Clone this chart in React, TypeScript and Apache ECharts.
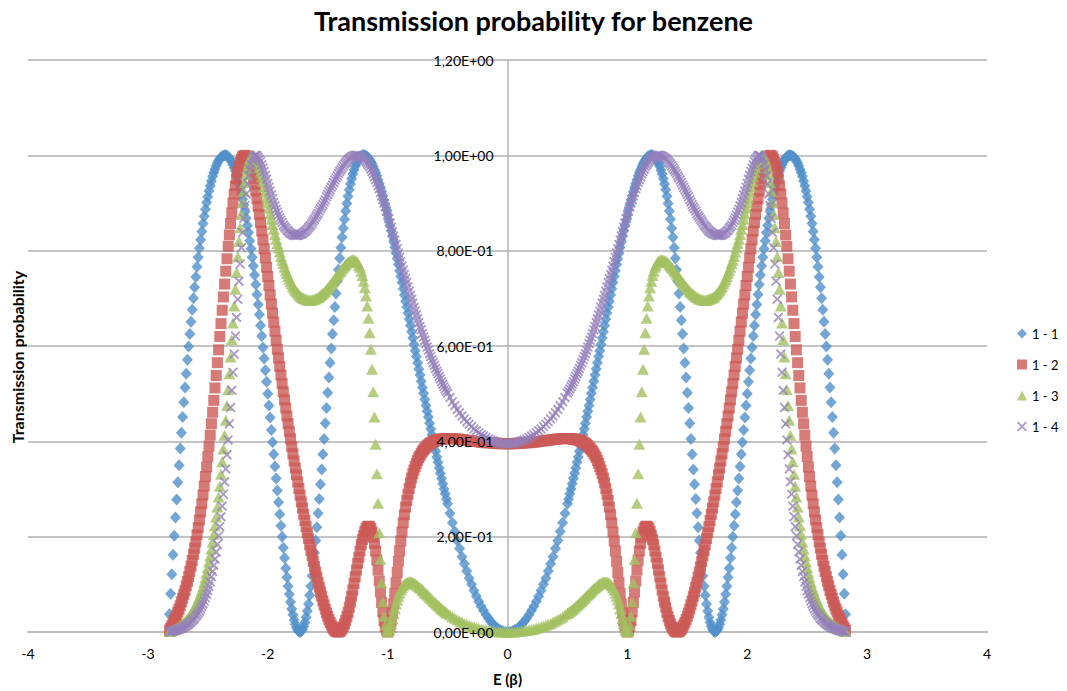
import React, { useEffect, useRef } from "react";
import * as echarts from "echarts";

// Energies (units of beta), E >= 0; the curves are symmetric in E.
// Coarse grid (step 0.02) and in-between readings (0.51 ... 2.81, step 0.02)
const energies = [0,0.02,0.04,0.06,0.08,0.1,0.12,0.14,0.16,0.18,0.2,0.22,0.24,0.26,0.28,0.3,0.32,0.34,0.36,0.38,0.4,0.42,0.44,0.46,0.48,0.5,0.52,0.54,0.56,0.58,0.6,0.62,0.64,0.66,0.68,0.7,0.72,0.74,0.76,0.78,0.8,0.82,0.84,0.86,0.88,0.9,0.92,0.94,0.96,0.98,1,1.02,1.04,1.06,1.08,1.1,1.12,1.14,1.16,1.18,1.2,1.22,1.24,1.26,1.28,1.3,1.32,1.34,1.36,1.38,1.4,1.42,1.44,1.46,1.48,1.5,1.52,1.54,1.56,1.58,1.6,1.62,1.64,1.66,1.68,1.7,1.72,1.74,1.76,1.78,1.8,1.82,1.84,1.86,1.88,1.9,1.92,1.94,1.96,1.98,2,2.02,2.04,2.06,2.08,2.1,2.12,2.14,2.16,2.18,2.2,2.22,2.24,2.26,2.28,2.3,2.32,2.34,2.36,2.38,2.4,2.42,2.44,2.46,2.48,2.5,2.52,2.54,2.56,2.58,2.6,2.62,2.64,2.66,2.68,2.7,2.72,2.74,2.76,2.78,2.8,2.82];

const energiesMid = [0.51,0.53,0.55,0.57,0.59,0.61,0.63,0.65,0.67,0.69,0.71,0.73,0.75,0.77,0.79,0.81,0.83,0.85,0.87,0.89,0.91,0.93,0.95,0.97,0.99,1.01,1.03,1.05,1.07,1.09,1.11,1.13,1.15,1.17,1.19,1.21,1.23,1.25,1.27,1.29,1.31,1.33,1.35,1.37,1.39,1.41,1.43,1.45,1.47,1.49,1.51,1.53,1.55,1.57,1.59,1.61,1.63,1.65,1.67,1.69,1.71,1.73,1.75,1.77,1.79,1.81,1.83,1.85,1.87,1.89,1.91,1.93,1.95,1.97,1.99,2.01,2.03,2.05,2.07,2.09,2.11,2.13,2.15,2.17,2.19,2.21,2.23,2.25,2.27,2.29,2.31,2.33,2.35,2.37,2.39,2.41,2.43,2.45,2.47,2.49,2.51,2.53,2.55,2.57,2.59,2.61,2.63,2.65,2.67,2.69,2.71,2.73,2.75,2.77,2.79,2.81];

const t11 = [0,0,0.002,0.004,0.007,0.011,0.016,0.022,0.029,0.036,
0.045,0.054,0.064,0.075,0.087,0.1,0.113,0.128,0.143,0.158,
0.175,0.192,0.211,0.229,0.249,0.269,0.29,0.311,0.333,0.356,
0.379,0.402,0.426,0.451,0.475,0.501,0.526,0.552,0.578,0.603,
0.63,0.656,0.682,0.707,0.733,0.758,0.783,0.807,0.831,0.853,
0.875,0.896,0.915,0.933,0.949,0.964,0.976,0.986,0.994,0.998,
1,0.998,0.993,0.983,0.969,0.951,0.928,0.899,0.866,0.828,
0.784,0.736,0.682,0.625,0.565,0.502,0.438,0.373,0.31,0.249,
0.192,0.141,0.096,0.059,0.031,0.012,0.002,0.001,0.009,0.025,
0.048,0.079,0.115,0.155,0.2,0.247,0.297,0.347,0.398,0.45,
0.5,0.549,0.597,0.643,0.687,0.729,0.768,0.804,0.838,0.868,
0.896,0.92,0.941,0.959,0.974,0.986,0.994,0.999,1,0.998,
0.993,0.984,0.971,0.956,0.936,0.913,0.887,0.857,0.823,0.786,
0.745,0.7,0.651,0.599,0.542,0.482,0.418,0.35,0.278,0.202,
0.121,0.037];
const t11Mid = [0.279,0.3,0.322,0.344,0.367,0.39,0.414,0.438,0.463,0.488,
0.513,0.539,0.565,0.59,0.617,0.643,0.669,0.694,0.72,0.746,
0.771,0.795,0.819,0.842,0.864,0.886,0.906,0.924,0.941,0.957,
0.97,0.982,0.99,0.997,1,1,0.996,0.988,0.977,0.961,
0.94,0.914,0.883,0.847,0.806,0.76,0.71,0.654,0.595,0.534,
0.47,0.405,0.341,0.279,0.22,0.166,0.118,0.077,0.044,0.02,
0.006,0,0.004,0.016,0.036,0.063,0.096,0.134,0.177,0.223,
0.272,0.322,0.373,0.424,0.475,0.525,0.574,0.621,0.666,0.708,
0.749,0.786,0.821,0.853,0.882,0.908,0.931,0.951,0.967,0.98,
0.99,0.997,1,0.999,0.996,0.989,0.978,0.964,0.946,0.925,
0.901,0.872,0.84,0.805,0.766,0.723,0.676,0.625,0.571,0.513,
0.451,0.385,0.314,0.24,0.162,0.08];

const t12 = [0.395,0.395,0.395,0.395,0.396,0.396,0.396,0.397,0.397,0.397,
0.398,0.398,0.399,0.4,0.4,0.401,0.402,0.402,0.403,0.404,
0.404,0.405,0.405,0.406,0.406,0.406,0.406,0.405,0.404,0.403,
0.402,0.4,0.397,0.393,0.388,0.382,0.375,0.366,0.354,0.34,
0.323,0.301,0.276,0.246,0.21,0.17,0.125,0.081,0.04,0.011,
0,0.011,0.042,0.084,0.13,0.17,0.199,0.217,0.222,0.217,
0.203,0.183,0.157,0.13,0.102,0.075,0.052,0.032,0.017,0.007,
0.001,0,0.003,0.01,0.02,0.033,0.048,0.065,0.084,0.104,
0.126,0.148,0.171,0.196,0.221,0.247,0.273,0.301,0.33,0.359,
0.389,0.421,0.453,0.487,0.521,0.557,0.593,0.631,0.669,0.707,
0.746,0.785,0.823,0.859,0.893,0.925,0.952,0.974,0.99,0.998,
0.999,0.992,0.976,0.951,0.919,0.879,0.833,0.783,0.73,0.675,
0.62,0.565,0.512,0.461,0.413,0.368,0.326,0.287,0.252,0.219,
0.189,0.163,0.138,0.116,0.097,0.079,0.063,0.048,0.035,0.024,
0.013,0.004];
const t12Mid = [0.406,0.405,0.405,0.404,0.403,0.401,0.398,0.395,0.391,0.385,
0.379,0.37,0.36,0.347,0.332,0.313,0.289,0.262,0.229,0.191,
0.148,0.103,0.059,0.023,0.003,0.003,0.024,0.062,0.107,0.151,
0.186,0.21,0.221,0.221,0.211,0.194,0.17,0.144,0.116,0.088,
0.063,0.041,0.024,0.011,0.003,0,0.001,0.006,0.015,0.026,
0.04,0.057,0.075,0.094,0.115,0.137,0.16,0.183,0.208,0.234,
0.26,0.287,0.315,0.344,0.374,0.405,0.437,0.47,0.504,0.539,
0.575,0.612,0.65,0.688,0.727,0.765,0.804,0.841,0.876,0.909,
0.939,0.963,0.983,0.995,1,0.997,0.985,0.965,0.936,0.9,
0.857,0.809,0.757,0.703,0.647,0.592,0.538,0.486,0.437,0.39,
0.346,0.306,0.269,0.235,0.204,0.176,0.15,0.127,0.106,0.087,
0.071,0.055,0.042,0.029,0.018,0.008];

const t13 = [0,0,0,0,0.001,0.001,0.002,0.003,0.003,0.004,
0.005,0.006,0.008,0.009,0.011,0.012,0.014,0.016,0.018,0.021,
0.023,0.026,0.029,0.032,0.036,0.039,0.043,0.047,0.051,0.056,
0.061,0.065,0.071,0.076,0.081,0.086,0.091,0.095,0.099,0.103,
0.105,0.105,0.104,0.1,0.093,0.082,0.067,0.049,0.028,0.009,
0,0.014,0.063,0.152,0.27,0.394,0.504,0.593,0.658,0.705,
0.736,0.757,0.77,0.778,0.781,0.78,0.778,0.774,0.768,0.762,
0.755,0.748,0.741,0.734,0.727,0.721,0.715,0.71,0.706,0.702,
0.699,0.697,0.696,0.696,0.698,0.7,0.703,0.708,0.714,0.721,
0.73,0.74,0.752,0.765,0.78,0.797,0.815,0.834,0.855,0.877,
0.9,0.923,0.945,0.965,0.982,0.994,1,0.997,0.984,0.96,
0.924,0.876,0.819,0.754,0.684,0.613,0.542,0.475,0.413,0.357,
0.306,0.262,0.223,0.189,0.16,0.135,0.114,0.095,0.08,0.067,
0.055,0.046,0.037,0.03,0.024,0.019,0.015,0.011,0.008,0.005,
0.003,0.001];
const t13Mid = [0.041,0.045,0.049,0.054,0.058,0.063,0.068,0.073,0.078,0.083,
0.088,0.093,0.097,0.101,0.104,0.105,0.105,0.102,0.097,0.088,
0.075,0.059,0.039,0.018,0.003,0.003,0.033,0.103,0.208,0.332,
0.451,0.551,0.628,0.684,0.722,0.748,0.765,0.775,0.779,0.781,
0.779,0.776,0.771,0.765,0.758,0.751,0.744,0.737,0.731,0.724,
0.718,0.713,0.708,0.704,0.701,0.698,0.697,0.696,0.697,0.699,
0.701,0.705,0.711,0.717,0.725,0.735,0.746,0.758,0.773,0.788,
0.806,0.824,0.845,0.866,0.889,0.911,0.934,0.955,0.974,0.989,
0.998,1,0.992,0.973,0.943,0.901,0.848,0.787,0.719,0.648,
0.577,0.508,0.444,0.384,0.331,0.283,0.241,0.205,0.174,0.147,
0.124,0.104,0.087,0.073,0.061,0.05,0.041,0.034,0.027,0.022,
0.017,0.013,0.009,0.006,0.004,0.002];

const t14 = [0.395,0.395,0.396,0.396,0.398,0.399,0.401,0.403,0.405,0.408,
0.411,0.414,0.418,0.422,0.426,0.431,0.436,0.441,0.447,0.453,
0.46,0.467,0.475,0.483,0.492,0.501,0.51,0.52,0.531,0.542,
0.553,0.565,0.578,0.591,0.605,0.619,0.634,0.649,0.665,0.681,
0.698,0.715,0.733,0.75,0.768,0.786,0.804,0.822,0.84,0.858,
0.875,0.892,0.907,0.922,0.936,0.949,0.961,0.971,0.98,0.987,
0.993,0.997,0.999,1,0.999,0.997,0.993,0.988,0.982,0.974,
0.966,0.957,0.948,0.938,0.928,0.918,0.907,0.897,0.888,0.878,
0.87,0.862,0.854,0.848,0.842,0.838,0.835,0.833,0.832,0.833,
0.835,0.838,0.843,0.85,0.859,0.869,0.881,0.894,0.909,0.925,
0.941,0.958,0.973,0.987,0.996,1,0.996,0.982,0.957,0.919,
0.868,0.806,0.736,0.66,0.583,0.507,0.437,0.372,0.315,0.264,
0.221,0.184,0.153,0.127,0.105,0.087,0.072,0.059,0.049,0.04,
0.033,0.026,0.021,0.017,0.013,0.01,0.008,0.006,0.004,0.003,
0.001,0];
const t14Mid = [0.505,0.515,0.525,0.536,0.547,0.559,0.571,0.584,0.598,0.612,
0.626,0.641,0.657,0.673,0.69,0.706,0.724,0.741,0.759,0.777,
0.795,0.813,0.831,0.849,0.867,0.883,0.9,0.915,0.93,0.943,
0.955,0.966,0.976,0.984,0.99,0.995,0.998,1,1,0.998,
0.995,0.991,0.985,0.978,0.97,0.962,0.953,0.943,0.933,0.923,
0.913,0.902,0.892,0.883,0.874,0.866,0.858,0.851,0.845,0.84,
0.836,0.834,0.832,0.832,0.833,0.836,0.841,0.847,0.854,0.864,
0.875,0.887,0.901,0.917,0.933,0.95,0.966,0.98,0.992,0.999,
0.999,0.991,0.971,0.94,0.895,0.838,0.772,0.698,0.621,0.545,
0.471,0.403,0.342,0.289,0.242,0.202,0.168,0.14,0.116,0.096,
0.079,0.065,0.054,0.044,0.036,0.029,0.024,0.019,0.015,0.012,
0.009,0.007,0.005,0.003,0.002,0.001];

const seriesNames = ["1 - 1", "1 - 2", "1 - 3", "1 - 4"];
const xTicks = { min: -4, max: 4, interval: 1 };
const yTicks = { min: 0, max: 1.2, interval: 0.2 };

// Build the symmetric [E, T] table from the E >= 0 readings
function table(vals: number[], midVals: number[]): number[][] {
  const pts: number[][] = [];
  energies.forEach((e, i) => pts.push([e, vals[i]]));
  energiesMid.forEach((e, i) => pts.push([e, midVals[i]]));
  pts.sort((a, b) => a[0] - b[0]);
  const out: number[][] = [];
  for (let i = pts.length - 1; i > 0; i--) out.push([-pts[i][0], pts[i][1]]);
  for (let i = 0; i < pts.length; i++) out.push([pts[i][0], pts[i][1]]);
  return out;
}

function fmtSci(v: number): string {
  const s = Number(v.toFixed(6)).toExponential(2);
  const [m, e] = s.split("e");
  const n = parseInt(e, 10);
  return m.replace(".", ",") + "E" + (n < 0 ? "-" : "+") + String(Math.abs(n)).padStart(2, "0");
}

const FONT = "Lato, 'Open Sans', sans-serif";
const X_PATH = "path://M1.3,0 L5,3.7 L8.7,0 L10,1.3 L6.3,5 L10,8.7 L8.7,10 L5,6.3 L1.3,10 L0,8.7 L3.7,5 L0,1.3 Z";

export default function App() {
  const ref = useRef<HTMLDivElement>(null);
  useEffect(() => {
    if (!ref.current) return;
    const chart = echarts.init(ref.current, undefined, { renderer: "svg" });
    const gridLeft = 28;
    const gridRight = 80;
    const plotWidth = 1067 - gridLeft - gridRight;
    chart.setOption({
      animation: false,
      backgroundColor: "#ffffff",
      textStyle: { fontFamily: FONT },
      title: {
        text: "Transmission probability for benzene",
        left: "center",
        top: 2,
        textStyle: { fontFamily: FONT, fontWeight: "bold", fontSize: 27, color: "#000" },
      },
      legend: {
        orient: "vertical",
        left: 1012,
        top: 322,
        itemWidth: 10,
        itemHeight: 10,
        itemGap: 18,
        data: seriesNames,
        textStyle: { fontFamily: FONT, fontSize: 13, color: "#000" },
      },
      graphic: [
        {
          type: "text",
          x: 17,
          y: 357,
          rotation: Math.PI / 2,
          style: {
            text: "Transmission probability",
            fontFamily: FONT,
            fontWeight: "bold",
            fontSize: 16,
            fill: "#000",
            align: "center",
            verticalAlign: "middle",
          },
        },
      ],
      grid: { left: gridLeft, right: gridRight, top: 60, bottom: 58, containLabel: false },
      xAxis: {
        type: "value",
        min: xTicks.min,
        max: xTicks.max,
        interval: xTicks.interval,
        name: "E (β)",
        nameLocation: "middle",
        nameGap: 39,
        nameTextStyle: { fontFamily: FONT, fontWeight: "bold", fontSize: 15, color: "#000" },
        axisLine: { show: true, onZero: true, lineStyle: { color: "#bdbdbd", width: 2 } },
        axisTick: { show: false },
        splitLine: { show: false },
        axisLabel: { fontFamily: FONT, fontSize: 14, color: "#000", margin: 14 },
      },
      yAxis: [
        {
          type: "value",
          min: yTicks.min,
          max: yTicks.max,
          interval: yTicks.interval,
          axisLine: { show: true, onZero: true, lineStyle: { color: "#b5b5b5", width: 1.5 } },
          axisTick: { show: false },
          axisLabel: { show: false },
          splitLine: { show: true, lineStyle: { color: "#c4c4c4", width: 2 } },
        },
        {
          type: "value",
          position: "left",
          offset: -plotWidth / 2,
          min: yTicks.min,
          max: yTicks.max,
          interval: yTicks.interval,
          z: 10,
          axisLine: { show: false, onZero: false },
          axisTick: { show: false },
          splitLine: { show: false },
          axisLabel: { fontFamily: FONT, fontSize: 14, color: "#000", margin: 14, formatter: fmtSci },
        },
      ],
      series: [
        {
          name: seriesNames[0],
          type: "scatter",
          symbol: "diamond",
          symbolSize: [11, 12],
          itemStyle: { color: "#5190cb" },
          data: table(t11, t11Mid),
        },
        {
          name: seriesNames[1],
          type: "scatter",
          symbol: "rect",
          symbolSize: 11,
          itemStyle: { color: "#cc5a56" },
          data: table(t12, t12Mid),
        },
        {
          name: seriesNames[2],
          type: "scatter",
          symbol: "triangle",
          symbolSize: [12, 11],
          itemStyle: { color: "#a2c061" },
          data: table(t13, t13Mid),
        },
        {
          name: seriesNames[3],
          type: "scatter",
          symbol: X_PATH,
          symbolSize: 10,
          itemStyle: { color: "#9580bb" },
          data: table(t14, t14Mid),
        },
      ],
    });
    return () => chart.dispose();
  }, []);
  return (
    <div
      ref={ref}
      style={{ position: "fixed", left: 0, top: 0, width: 1067, height: 691, background: "#fff" }}
    />
  );
}
